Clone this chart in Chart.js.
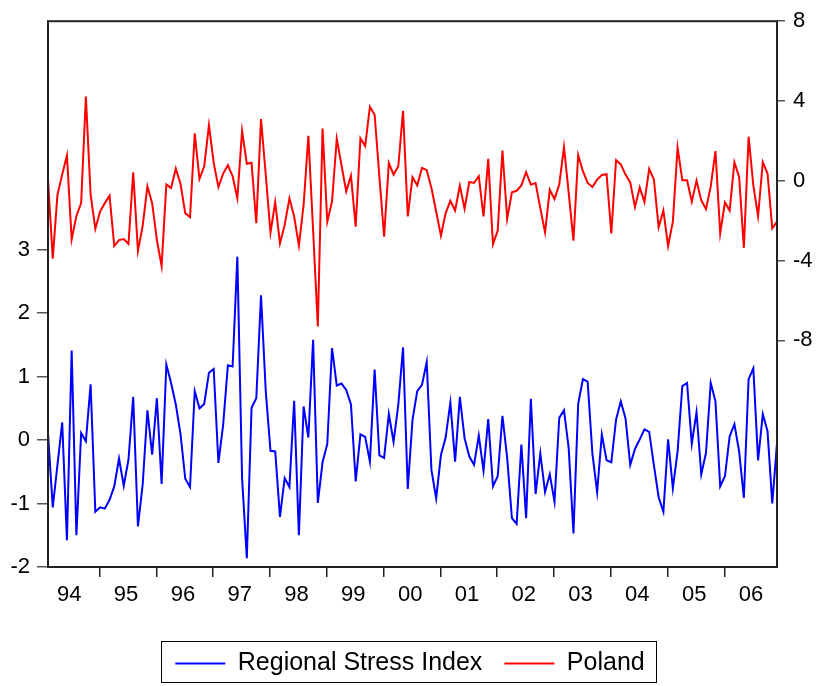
<!DOCTYPE html>
<html>
<head>
<meta charset="utf-8">
<script src="https://cdn.jsdelivr.net/npm/chart.js@4.4.1/dist/chart.umd.min.js"></script>
<style>
  html, body { margin: 0; padding: 0; background: #fff; }
</style>
</head>
<body>
<canvas id="stressChart" width="820" height="686"></canvas>
<script>
// monthly observations, 1994M02 .. 2006M12
const months = [];
for (let y = 1994; y <= 2006; y++) {
    for (let m = (y === 1994 ? 2 : 1); m <= 12; m++) {
        months.push(y + '-' + String(m).padStart(2, '0'));
    }
}
const yearLabels = ['94', '95', '96', '97', '98', '99', '00', '01', '02', '03', '04', '05', '06'];
const leftTicks = [-2, -1, 0, 1, 2, 3];
const rightTicks = [-8, -4, 0, 4, 8];

const stressIndex = [
    0.11, -1.06, -0.39, 0.28, -1.58, 1.41, -1.50, 0.11, -0.02, 0.88,
    -1.13, -1.06, -1.08, -0.94, -0.73, -0.29, -0.72, -0.31, 0.68, -1.36,
    -0.70, 0.47, -0.23, 0.66, -0.69, 1.19, 0.90, 0.56, 0.09, -0.61,
    -0.74, 0.77, 0.50, 0.57, 1.06, 1.12, -0.36, 0.24, 1.18, 1.16,
    2.89, -0.60, -1.86, 0.51, 0.66, 2.28, 0.77, -0.17, -0.18, -1.21,
    -0.60, -0.74, 0.62, -1.50, 0.53, 0.04, 1.58, -0.99, -0.35, -0.06,
    1.45, 0.86, 0.89, 0.79, 0.56, -0.65, 0.09, 0.05, -0.34, 1.11,
    -0.24, -0.28, 0.41, -0.03, 0.56, 1.46, -0.77, 0.32, 0.77, 0.87,
    1.23, -0.47, -0.92, -0.24, 0.04, 0.59, -0.34, 0.68, 0.03, -0.26,
    -0.39, 0.07, -0.48, 0.33, -0.73, -0.57, 0.38, -0.28, -1.23, -1.32,
    -0.07, -1.23, 0.65, -0.85, -0.21, -0.82, -0.54, -0.97, 0.35, 0.47,
    -0.13, -1.47, 0.57, 0.96, 0.92, -0.21, -0.82, 0.09, -0.32, -0.35,
    0.32, 0.61, 0.34, -0.39, -0.14, 0.01, 0.17, 0.13, -0.40, -0.90,
    -1.13, 0.01, -0.76, -0.18, 0.85, 0.90, -0.06, 0.44, -0.54, -0.20,
    0.90, 0.61, -0.73, -0.57, 0.06, 0.25, -0.18, -0.91, 0.96, 1.13,
    -0.32, 0.41, 0.14, -1.00, -0.05
];

const poland = [
    0.09, -3.90, -0.70, 0.31, 1.27, -2.94, -1.76, -1.12, 4.22, -0.70,
    -2.41, -1.54, -1.12, -0.75, -3.27, -2.97, -2.92, -3.17, 0.43, -3.51,
    -2.26, -0.28, -1.12, -2.97, -4.28, -0.18, -0.36, 0.62, -0.16, -1.63,
    -1.83, 2.38, 0.09, 0.73, 2.79, 0.90, -0.31, 0.36, 0.78, 0.23,
    -0.87, 2.50, 0.85, 0.90, -2.13, 3.09, 0.31, -2.59, -1.07, -3.14,
    -2.21, -0.88, -1.79, -3.24, -1.20, 2.25, -2.47, -7.30, 2.62, -2.05,
    -1.04, 2.11, 0.78, -0.53, 0.26, -2.30, 2.13, 1.74, 3.71, 3.31,
    0.23, -2.80, 0.90, 0.31, 0.73, 3.51, -1.79, 0.18, -0.23, 0.65,
    0.53, -0.36, -1.54, -2.75, -1.63, -1.00, -1.49, -0.24, -1.40, -0.06,
    -0.11, 0.23, -1.79, 1.10, -3.19, -2.50, 1.52, -1.91, -0.58, -0.50,
    -0.23, 0.43, -0.19, -0.11, -1.37, -2.59, -0.45, -0.92, -0.19, 1.69,
    -0.61, -3.00, 1.29, 0.48, -0.11, -0.31, 0.06, 0.29, 0.33, -2.64,
    1.04, 0.82, 0.31, -0.08, -1.32, -0.33, -1.07, 0.60, 0.06, -2.33,
    -1.49, -3.27, -2.05, 1.66, 0.03, 0.03, -1.05, 0.01, -0.98, -1.42,
    -0.28, 1.49, -2.64, -1.09, -1.49, 0.93, 0.19, -3.36, 2.21, -0.23,
    -1.77, 0.93, 0.36, -2.38, -2.05
];

const FONT = "'Liberation Sans', Arial, sans-serif";

// year boundaries get a tick mark, year labels sit mid-year
const YEAR_TICK = 10.9;
const YEAR_MID = 4.5;
function isLabelTick(v) {
    const k = (v - YEAR_MID) / 12;
    return Math.abs(k - Math.round(k)) < 0.01;
}

// box round the plot and round the legend
const framePlugin = {
    id: 'frame',
    afterDatasetsDraw(chart) {
        const {ctx, chartArea: a} = chart;
        ctx.save();
        ctx.strokeStyle = '#222';
        ctx.lineWidth = 2;
        ctx.strokeRect(a.left, a.top, a.right - a.left, a.bottom - a.top);
        ctx.restore();
    },
    afterDraw(chart) {
        const boxes = chart.legend.legendHitBoxes;
        if (!boxes || !boxes.length) return;
        const first = boxes[0], last = boxes[boxes.length - 1];
        const ctx = chart.ctx;
        ctx.save();
        ctx.strokeStyle = '#000';
        ctx.lineWidth = 1;
        const l = first.left - 14, r = last.left + last.width + 12;
        const t = first.top - 10, b = first.top + first.height + 6;
        ctx.strokeRect(Math.round(l) + 0.5, Math.round(t) + 0.5, Math.round(r - l), Math.round(b - t));
        ctx.restore();
    }
};

const ctx = document.getElementById('stressChart').getContext('2d');

new Chart(ctx, {
    type: 'line',
    data: {
        datasets: [
            {
                label: 'Regional Stress Index',
                data: stressIndex.map((v, i) => ({x: i, y: v})),
                borderColor: '#0000ff',
                backgroundColor: '#0000ff',
                borderWidth: 2,
                pointRadius: 0,
                tension: 0,
                yAxisID: 'y'
            },
            {
                label: 'Poland',
                data: poland.map((v, i) => ({x: i, y: v})),
                borderColor: '#ff0000',
                backgroundColor: '#ff0000',
                borderWidth: 2,
                pointRadius: 0,
                tension: 0,
                yAxisID: 'y1'
            }
        ]
    },
    options: {
        responsive: false,
        animation: false,
        layout: { padding: { top: 20, left: 0, right: 0, bottom: 0 } },
        plugins: {
            tooltip: { enabled: false },
            legend: {
                position: 'bottom',
                labels: {
                    usePointStyle: true,
                    pointStyle: 'line',
                    pointStyleWidth: 50,
                    padding: 22,
                    color: '#000',
                    font: { family: FONT, size: 25 }
                }
            }
        },
        scales: {
            x: {
                type: 'linear',
                min: 0,
                max: months.length - 1,
                afterBuildTicks: s => {
                    const t = [];
                    yearLabels.forEach((_, k) => {
                        t.push({value: YEAR_MID + 12 * k});
                        if (k < yearLabels.length - 1) t.push({value: YEAR_TICK + 12 * k});
                    });
                    s.ticks = t;
                },
                afterFit: s => { s.height = 62; },
                border: { display: false },
                grid: {
                    drawOnChartArea: false,
                    tickLength: 10,
                    lineWidth: 1.5,
                    color: c => (c.tick && isLabelTick(c.tick.value)) ? 'rgba(0,0,0,0)' : '#222'
                },
                ticks: {
                    autoSkip: false,
                    maxRotation: 0,
                    padding: 5,
                    color: '#000',
                    font: { family: FONT, size: 22 },
                    callback: v => isLabelTick(v) ? yearLabels[Math.round((v - YEAR_MID) / 12)] : ''
                }
            },
            y: {
                position: 'left',
                min: -2,
                max: 6.6,
                afterBuildTicks: s => { s.ticks = leftTicks.map(v => ({value: v})); },
                afterFit: s => { s.width = 48; },
                border: { display: false },
                grid: { drawOnChartArea: false, tickLength: 11, color: '#555', lineWidth: 1.5 },
                ticks: { padding: 7, color: '#000', font: { family: FONT, size: 22 } }
            },
            y1: {
                position: 'right',
                min: -19.36,
                max: 8,
                afterBuildTicks: s => { s.ticks = rightTicks.map(v => ({value: v})); },
                afterFit: s => { s.width = 43; },
                border: { display: false },
                grid: { drawOnChartArea: false, tickLength: 8, color: '#555', lineWidth: 1.5 },
                ticks: { padding: 8, color: '#000', font: { family: FONT, size: 22 } }
            }
        }
    },
    plugins: [framePlugin]
});
</script>
</body>
</html>
